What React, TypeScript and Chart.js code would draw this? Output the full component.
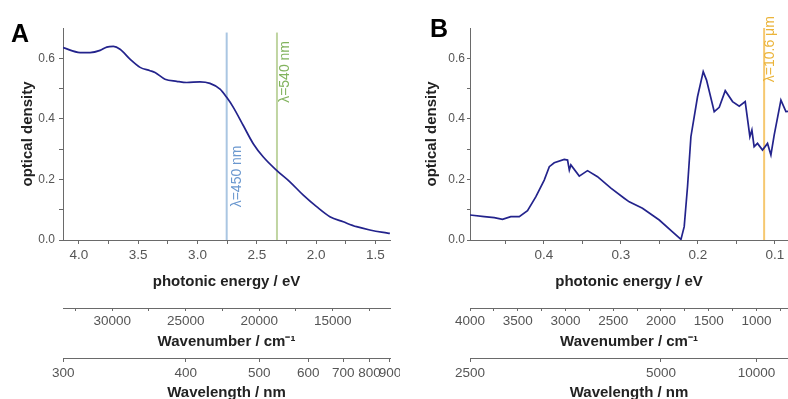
import React, { useEffect, useRef } from "react";
import { Chart, registerables } from "chart.js";

Chart.register(...registerables);

// ---------- data ----------
const energyA = [4.133, 3.99, 3.906, 3.821, 3.765, 3.709, 3.653, 3.569, 3.484, 3.4, 3.358, 3.274, 3.175, 3.091, 2.979, 2.895, 2.81, 2.754, 2.698, 2.614, 2.53, 2.445, 2.333, 2.221, 2.108, 1.996, 1.884, 1.771, 1.659, 1.547, 1.434, 1.378];
const odA = [0.635, 0.619, 0.619, 0.626, 0.637, 0.639, 0.63, 0.597, 0.57, 0.559, 0.553, 0.531, 0.524, 0.52, 0.522, 0.517, 0.498, 0.471, 0.438, 0.378, 0.318, 0.274, 0.23, 0.192, 0.148, 0.11, 0.077, 0.06, 0.044, 0.033, 0.025, 0.022];

const energyB = [0.496, 0.4775, 0.4645, 0.4538, 0.443, 0.432, 0.4213, 0.4104, 0.3996, 0.393, 0.3866, 0.3736, 0.3693, 0.367, 0.365, 0.3541, 0.3434, 0.3304, 0.313, 0.2957, 0.2892, 0.272, 0.2502, 0.233, 0.222, 0.2178, 0.2135, 0.2091, 0.2005, 0.1931, 0.1888, 0.1788, 0.1723, 0.1645, 0.155, 0.1463, 0.1386, 0.1325, 0.1299, 0.127, 0.1226, 0.1161, 0.1096, 0.1052, 0.1009, 0.0922, 0.0857, 0.083];
const odB = [0.0825, 0.077, 0.0737, 0.068, 0.077, 0.077, 0.097, 0.143, 0.198, 0.242, 0.255, 0.266, 0.264, 0.231, 0.248, 0.211, 0.229, 0.209, 0.171, 0.138, 0.126, 0.105, 0.066, 0.027, 0.002, 0.044, 0.176, 0.341, 0.473, 0.556, 0.528, 0.424, 0.438, 0.493, 0.457, 0.442, 0.457, 0.341, 0.363, 0.308, 0.319, 0.297, 0.319, 0.281, 0.347, 0.462, 0.424, 0.425];

// axis ranges (photon energy, eV)
const rangeA = [1.377, 4.134];
const rangeB = [0.083, 0.496];
const odRange = [0, 0.7];

// tick values
const odTicks = [0, 0.2, 0.4, 0.6];
const odMinor = [0.1, 0.3, 0.5];
const energyTicksA = [4.0, 3.5, 3.0, 2.5, 2.0, 1.5];
const energyMinorA = [3.75, 3.25, 2.75, 2.25, 1.75];
const wavenumberTicksA = [30000, 25000, 20000, 15000];
const wavenumberMinorA = [32500, 27500, 22500, 17500, 12500];
const wavelengthTicksA = [300, 400, 500, 600, 700, 800, 900];
const energyTicksB = [0.4, 0.3, 0.2, 0.1];
const energyMinorB = [0.45, 0.35, 0.25, 0.15];
const wavenumberTicksB = [4000, 3500, 3000, 2500, 2000, 1500, 1000];
const wavenumberMinorB = [3750, 3250, 2750, 2250, 1750, 1250, 750];
const wavelengthTicksB = [2500, 5000, 10000];

// laser lines
const markerEnergiesA = [2.754, 2.33];
const markerLabelsA = ["λ=450 nm", "λ=540 nm"];
const markerEnergiesB = [0.114];
const markerLabelsB = ["λ=10.6 μm"];

// ---------- helpers ----------
const FONT = '"Liberation Sans", Arial, Helvetica, sans-serif';
const AXIS = "#6a6a6a";
const TICKTXT = "#555555";
const TITLE = "#222222";
const eFromNm = (nm: number) => 1239.84 / nm;
const eFromCm = (cm: number) => cm / 8065.54;
const ident = (v: number) => v;

function tickBuilder(majors: number[], minors: number[], toE: (v: number) => number, fmt: (v: number) => string) {
  return (scale: any) => {
    const list = majors
      .map((v) => ({ value: toE(v), label: fmt(v) }))
      .concat(minors.map((v) => ({ value: toE(v), label: "" })));
    list.sort((a, b) => a.value - b.value);
    scale.ticks = list;
  };
}

function xAxis(opts: any) {
  return {
    type: "linear",
    position: "bottom",
    reverse: true,
    min: opts.range[0],
    max: opts.range[1],
    weight: opts.weight,
    afterBuildTicks: tickBuilder(opts.majors, opts.minors, opts.toE, opts.fmt),
    afterFit: (s: any) => {
      s.height = opts.height;
    },
    grid: { drawOnChartArea: false, color: AXIS, tickLength: opts.tickLength, lineWidth: 1 },
    border: { color: AXIS, width: 1 },
    ticks: {
      autoSkip: false,
      maxRotation: 0,
      minRotation: 0,
      padding: opts.tickPad,
      color: TICKTXT,
      font: { family: FONT, size: 13.5 },
      callback: (_v: any, i: number, ticks: any[]) => ticks[i].label,
    },
    title: {
      display: true,
      text: opts.title,
      color: TITLE,
      font: { family: FONT, size: 15, weight: "bold" },
      padding: { top: 0, bottom: opts.titlePad },
    },
  };
}

function yAxis(width: number, tickLength: number, tickPad: number, titlePad: number) {
  return {
    type: "linear",
    position: "left",
    min: odRange[0],
    max: odRange[1],
    afterBuildTicks: tickBuilder(odTicks, odMinor, ident, (v) => v.toFixed(1)),
    afterFit: (s: any) => {
      s.width = width;
    },
    grid: { drawOnChartArea: false, color: AXIS, tickLength, lineWidth: 1 },
    border: { color: AXIS, width: 1 },
    ticks: {
      padding: tickPad,
      color: TICKTXT,
      font: { family: FONT, size: 12 },
      callback: (_v: any, i: number, ticks: any[]) => ticks[i].label,
    },
    title: {
      display: true,
      text: "optical density",
      color: TITLE,
      font: { family: FONT, size: 15, weight: "bold" },
      padding: { top: titlePad, bottom: 0 },
    },
  };
}

const markerPlugin = {
  id: "markers",
  beforeDatasetsDraw(chart: any, _args: any, opts: any) {
    const { ctx, chartArea, scales } = chart;
    (opts.items || []).forEach((m: any) => {
      const x = scales.x.getPixelForValue(m.energy);
      ctx.save();
      ctx.strokeStyle = m.lineColor;
      ctx.lineWidth = 2;
      ctx.beginPath();
      ctx.moveTo(x, scales.y.getPixelForValue(m.top));
      ctx.lineTo(x, chartArea.bottom);
      ctx.stroke();
      ctx.translate(x + m.dx, scales.y.getPixelForValue(m.labelAt));
      ctx.rotate(-Math.PI / 2);
      ctx.fillStyle = m.textColor;
      ctx.font = `14px ${FONT}`;
      ctx.textAlign = "center";
      ctx.textBaseline = "middle";
      ctx.fillText(m.text, 0, 0);
      ctx.restore();
    });
  },
  afterDraw(chart: any, _args: any, opts: any) {
    if (!opts.letter) return;
    const { ctx } = chart;
    ctx.save();
    ctx.fillStyle = "#000";
    ctx.font = `bold 25px ${FONT}`;
    ctx.textAlign = "left";
    ctx.textBaseline = "alphabetic";
    ctx.fillText(opts.letter, opts.letterX, opts.letterY);
    ctx.restore();
  },
};

function buildConfig(panel: "A" | "B") {
  const isA = panel === "A";
  const energy = isA ? energyA : energyB;
  const od = isA ? odA : odB;
  const range = isA ? rangeA : rangeB;
  const markers = isA
    ? markerEnergiesA.map((e, i) => ({
        energy: e,
        text: markerLabelsA[i],
        top: 0.685,
        labelAt: i === 0 ? 0.21 : 0.555,
        dx: i === 0 ? 10 : 8,
        lineColor: i === 0 ? "#aac6e2" : "#c0d5a2",
        textColor: i === 0 ? "#6b98cf" : "#82b35e",
      }))
    : markerEnergiesB.map((e, i) => ({
        energy: e,
        text: markerLabelsB[i],
        top: 0.7,
        labelAt: 0.63,
        dx: 6,
        lineColor: "#f6c870",
        textColor: "#ebb43a",
      }));
  return {
    type: "line",
    data: {
      datasets: [
        {
          data: energy.map((e, i) => ({ x: e, y: od[i] })),
          borderColor: "#23238c",
          borderWidth: 1.7,
          pointRadius: 0,
          fill: false,
          cubicInterpolationMode: isA ? "monotone" : "default",
          tension: 0,
        },
      ],
    },
    options: {
      animation: false,
      responsive: false,
      events: [],
      layout: { padding: { left: 0, right: isA ? 10 : 0, top: 28, bottom: 0 } },
      plugins: {
        legend: { display: false },
        tooltip: { enabled: false },
        markers: { items: markers, letter: panel, letterX: isA ? 11 : 30, letterY: isA ? 42 : 37 },
      },
      scales: {
        x: xAxis({
          range,
          weight: 0,
          majors: isA ? energyTicksA : energyTicksB,
          minors: isA ? energyMinorA : energyMinorB,
          toE: ident,
          fmt: (v: number) => v.toFixed(1),
          height: 68,
          tickLength: 4,
          tickPad: 3,
          title: "photonic energy / eV",
          titlePad: 17,
        }),
        x2: xAxis({
          range,
          weight: 1,
          majors: isA ? wavenumberTicksA : wavenumberTicksB,
          minors: isA ? wavenumberMinorA : wavenumberMinorB,
          toE: eFromCm,
          fmt: (v: number) => String(v),
          height: 50,
          tickLength: 3,
          tickPad: 2.5,
          title: "Wavenumber / cm⁻¹",
          titlePad: 7,
        }),
        x3: xAxis({
          range,
          weight: 2,
          majors: isA ? wavelengthTicksA : wavelengthTicksB,
          minors: [],
          toE: eFromNm,
          fmt: (v: number) => String(v),
          height: 41,
          tickLength: 4,
          tickPad: 3,
          title: "Wavelength / nm",
          titlePad: -3,
        }),
        y: isA ? yAxis(63, 4, 4, 18.5) : yAxis(70, 3, 2, 22.5),
      },
    },
    plugins: [markerPlugin],
  };
}

function Panel({ panel, left, width }: { panel: "A" | "B"; left: number; width: number }) {
  const ref = useRef<HTMLCanvasElement | null>(null);
  useEffect(() => {
    if (!ref.current) return;
    const chart = new Chart(ref.current, buildConfig(panel) as any);
    return () => chart.destroy();
  }, [panel]);
  return (
    <canvas
      ref={ref}
      width={width}
      height={399}
      style={{ position: "absolute", left, top: 0, width, height: 399, display: "block" }}
    />
  );
}

export default function App() {
  return (
    <div
      style={{
        position: "absolute",
        left: 0,
        top: 0,
        width: 788,
        height: 399,
        overflow: "hidden",
        background: "#ffffff",
      }}
    >
      <Panel panel="A" left={0} width={400} />
      <Panel panel="B" left={400} width={388} />
    </div>
  );
}
